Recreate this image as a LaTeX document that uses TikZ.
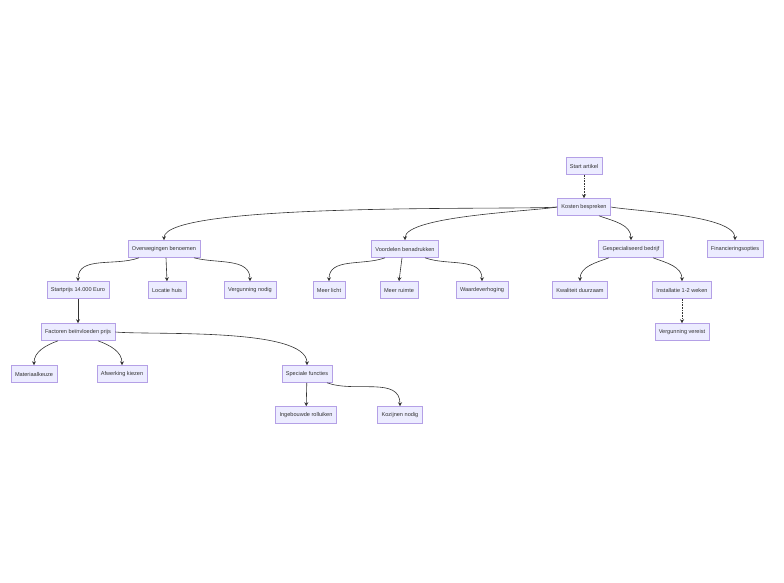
\documentclass[tikz,border=0pt]{standalone}
\usepackage{fontspec}
\setmainfont{Liberation Sans}
\usetikzlibrary{arrows.meta}
\definecolor{boxfill}{RGB}{236,236,255}
\definecolor{boxline}{RGB}{180,160,230}
\definecolor{inkgrey}{RGB}{51,51,51}
\begin{document}
\begin{tikzpicture}[x=1pt,y=-1pt,
  box/.style = {rectangle,draw=boxline,fill=boxfill,line width=.6pt,text=inkgrey,
    font=\fontsize{5.6}{6}\selectfont,minimum height=17pt,inner xsep=4pt},
  link/.style = {draw=inkgrey,line width=.6pt,-{Stealth[length=4pt,width=4pt]}},
  dots/.style = {link,densely dotted}]

\useasboundingbox (0,0) rectangle (784,582);

\node[box] (start) at (584,166) {Start artikel};
\node[box] (kosten) at (584,207) {Kosten bespreken};

\node[box] (overw) at (164,249) {Overwegingen benoemen};
\node[box] (voord) at (405,249) {Voordelen benadrukken};
\node[box] (gesp) at (631,249) {Gespecialiseerd bedrijf};
\node[box] (fin) at (735,249) {Financieringsopties};

\node[box] (startprijs) at (78,290) {Startprijs 14.000 Euro};
\node[box] (locatie) at (167,290) {Locatie huis};
\node[box] (vergnodig) at (250,290) {Vergunning nodig};
\node[box] (licht) at (329,290) {Meer licht};
\node[box] (ruimte) at (399,290) {Meer ruimte};
\node[box] (waarde) at (482,290) {Waardeverhoging};
\node[box] (kwal) at (580,290) {Kwaliteit duurzaam};
\node[box] (install) at (682,290) {Installatie 1-2 weken};

\node[box] (factoren) at (78,332) {Factoren beïnvloeden prijs};
\node[box] (vergvereist) at (682,332) {Vergunning vereist};

\node[box] (materiaal) at (34,374) {Materiaalkeuze};
\node[box] (afwerking) at (122,374) {Afwerking kiezen};
\node[box] (speciaal) at (307,374) {Speciale functies};

\node[box] (rolluik) at (306,415) {Ingebouwde rolluiken};
\node[box] (kozijn) at (400,415) {Kozijnen nodig};

\draw[dots] (start) -- (kosten);
\draw[link] (kosten.west) to[out=185,in=90,looseness=.25] (overw.north);
\draw[link] (kosten.west) to[out=190,in=90,looseness=.4] (voord.north);
\draw[link] ([xshift=15pt]kosten.south) to[out=-20,in=90] (gesp.north);
\draw[link] (kosten.east) to[out=-10,in=90,looseness=.5] (fin.north);

\draw[link] ([xshift=-25pt]overw.south) to[out=-160,in=90] (startprijs.north);
\draw[link] ([xshift=2pt]overw.south) -- (locatie.north);
\draw[link] ([xshift=30pt]overw.south) to[out=-15,in=90] (vergnodig.north);

\draw[link] ([xshift=-20pt]voord.south) to[out=-160,in=90] (licht.north);
\draw[link] ([xshift=-3pt]voord.south) -- (ruimte.north);
\draw[link] ([xshift=20pt]voord.south) to[out=-20,in=90] (waarde.north);

\draw[link] ([xshift=-22pt]gesp.south) to[out=-160,in=90] (kwal.north);
\draw[link] ([xshift=22pt]gesp.south) to[out=-20,in=90] (install.north);
\draw[dots] (install) -- (vergvereist);

\draw[link] (startprijs) -- (factoren);
\draw[link] ([xshift=-20pt]factoren.south) to[out=-160,in=90] (materiaal.north);
\draw[link] ([xshift=20pt]factoren.south) to[out=-20,in=90] (afwerking.north);
\draw[link] (factoren.east) to[out=-5,in=90,looseness=.5] (speciaal.north);

\draw[link] (speciaal) -- (rolluik);
\draw[link] ([xshift=20pt]speciaal.south) to[out=-20,in=90] (kozijn.north);

\end{tikzpicture}
\end{document}
